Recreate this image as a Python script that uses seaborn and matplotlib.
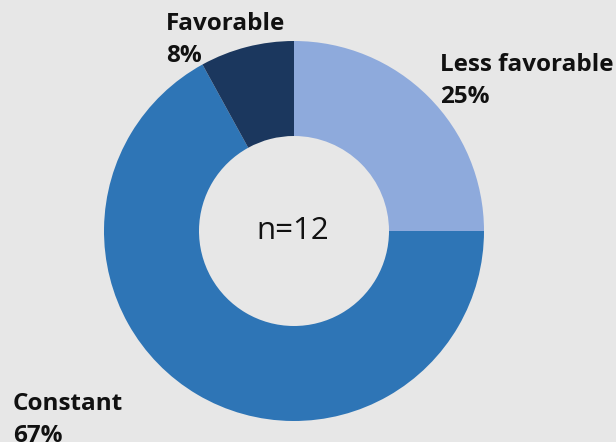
import matplotlib
matplotlib.use("Agg")
import matplotlib.pyplot as plt
import seaborn as sns

categories = ["Less favorable", "Constant", "Favorable"]
percents = [25, 67, 8]
pct_labels = ["25%", "67%", "8%"]
center_label = "n=12"

sns.set_theme(style="white")
plt.rcParams['font.family'] = ['Open Sans', 'DejaVu Sans']

bg = "#e7e7e7"
colors = ["#8eaadc", "#2e75b6", "#1b375e"]

fig = plt.figure(figsize=(6.16, 4.42), dpi=100, facecolor=bg)
ax = fig.add_axes([0, 0, 1, 1])
ax.set_facecolor(bg)

H = 442
ax.pie(percents, colors=colors, startangle=90, counterclock=False,
       center=(294, H - 231), radius=190,
       wedgeprops=dict(width=95, linewidth=0))
ax.set_xlim(0, 616)
ax.set_ylim(0, H)
ax.set_aspect('equal')
ax.axis('off')

ax.text(293, H - 231, center_label, ha='center', va='center', fontsize=22.5, color='#111111')

label_pos = {"Less favorable": (440, 53), "Constant": (13, 392), "Favorable": (166, 12)}
for cat, pl in zip(categories, pct_labels):
    x, y = label_pos[cat]
    ax.text(x, H - y, f"{cat}\n{pl}", ha='left', va='top', fontsize=17.5,
            fontweight='bold', color='#111111', linespacing=1.45)

fig.savefig("out.png", dpi=100, facecolor=bg)
